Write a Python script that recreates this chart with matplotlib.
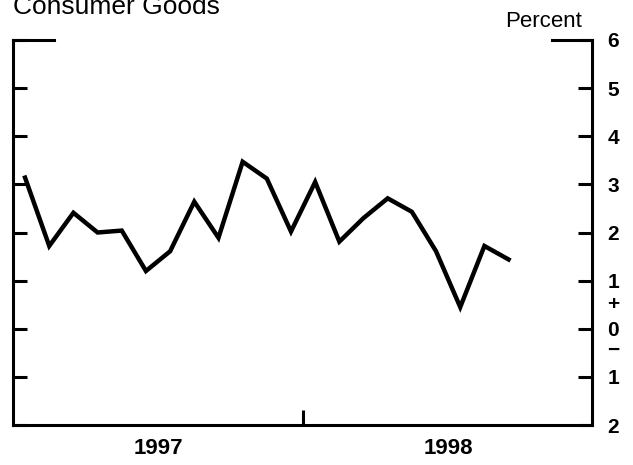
import numpy as np
import matplotlib
matplotlib.use('Agg')
import matplotlib.pyplot as plt

plt.rcParams['font.family'] = ['Liberation Sans', 'DejaVu Sans']

# Consumer goods, monthly percent change, Jan 1997 - Sep 1998
values = [3.14, 1.72, 2.41, 2.00, 2.04, 1.20, 1.61, 2.64, 1.89, 3.47, 3.12,
          2.02, 3.05, 1.81, 2.30, 2.71, 2.43, 1.61, 0.45, 1.72, 1.44]
y_ticks = [6, 5, 4, 3, 2, 1, 0, -1, -2]
y_labels = ['6', '5', '4', '3', '2', '1', '0', '1', '2']
years = ['1997', '1998']
year_centers = [5.5, 17.5]
year_break = 11.5

x = np.arange(len(values))

fig = plt.figure(figsize=(6.33, 4.65), dpi=100)
ax = fig.add_axes([0.0205, 0.086, 0.9147, 0.828])

ax.plot(x, values, color='black', lw=3.2, solid_joinstyle='miter')

ax.set_xlim(-0.5, 23.45)
ax.set_ylim(-2, 6)

for s in ['left', 'right', 'bottom']:
    ax.spines[s].set_linewidth(2.2)
ax.spines['top'].set_visible(False)
# broken top frame: short pieces at each corner
ax.plot([0, 0.071], [1, 1], transform=ax.transAxes, color='black', lw=2.2, clip_on=False,
        solid_capstyle='projecting')
ax.plot([0.931, 1], [1, 1], transform=ax.transAxes, color='black', lw=2.2, clip_on=False,
        solid_capstyle='projecting')

ax.set_yticks(y_ticks)
ax.set_yticklabels(y_labels)
ax.tick_params(axis='y', left=True, right=True, labelleft=False, labelright=True,
               direction='in', length=10, width=2.2, pad=11, labelsize=15)
for lab in ax.get_yticklabels():
    lab.set_fontweight('bold')
ytrans = ax.get_yaxis_transform()
ax.text(1.027, 0.5, '+', transform=ytrans, ha='left', va='center', fontsize=15,
        fontweight='bold')
ax.text(1.027, -0.45, '\u2212', transform=ytrans, ha='left', va='center', fontsize=15,
        fontweight='bold')

ax.set_xticks([year_break])
ax.set_xticklabels([''])
ax.set_xticks(year_centers, minor=True)
ax.set_xticklabels(years, minor=True, fontweight='bold')
ax.tick_params(axis='x', which='major', direction='in', length=11, width=2.2)
ax.tick_params(axis='x', which='minor', length=0, pad=9, labelsize=16)

fig.text(0.02, 0.97, 'Consumer Goods', fontsize=19, ha='left', va='baseline')
fig.text(0.92, 0.942, 'Percent', fontsize=16, ha='right', va='baseline')

fig.savefig('out.png', dpi=100)
